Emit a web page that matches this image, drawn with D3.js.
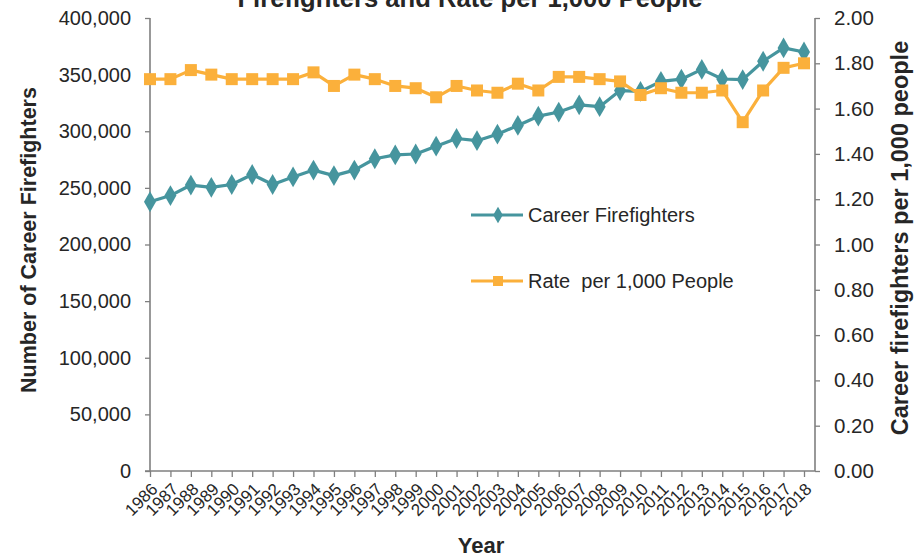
<!DOCTYPE html>
<html>
<head>
<meta charset="utf-8">
<script src="https://cdn.jsdelivr.net/npm/d3@7"></script>
<style>
  html, body { margin: 0; padding: 0; background: #fff; }
  svg { display: block; font-family: "Liberation Sans", Arial, sans-serif; }
</style>
</head>
<body>
<svg id="chart" width="923" height="558"></svg>
<script>
// Career firefighters in the US and the rate per 1,000 people, 1986-2018
const years = [1986, 1987, 1988, 1989, 1990, 1991, 1992, 1993, 1994, 1995, 1996,
  1997, 1998, 1999, 2000, 2001, 2002, 2003, 2004, 2005, 2006, 2007, 2008, 2009,
  2010, 2011, 2012, 2013, 2014, 2015, 2016, 2017, 2018];

const careerFirefighters = [237750, 243200, 252500, 250500, 253000, 261800, 253000,
  259650, 265700, 260850, 265700, 275700, 279100, 279900, 286800, 293600, 291650,
  297400, 305150, 313300, 316950, 323350, 321700, 335950, 335150, 344050, 345950,
  354600, 346150, 345600, 361800, 373600, 370000];

const ratePer1000 = [1.73, 1.73, 1.77, 1.75, 1.73, 1.73, 1.73, 1.73, 1.76, 1.70,
  1.75, 1.73, 1.70, 1.69, 1.65, 1.70, 1.68, 1.67, 1.71, 1.68, 1.74, 1.74, 1.73,
  1.72, 1.66, 1.69, 1.67, 1.67, 1.68, 1.54, 1.68, 1.78, 1.80];

const leftTicks = [0, 50000, 100000, 150000, 200000, 250000, 300000, 350000, 400000];
const rightTicks = [0, 0.2, 0.4, 0.6, 0.8, 1.0, 1.2, 1.4, 1.6, 1.8, 2.0];

const titleText = "Firefighters and Rate per 1,000 People";
const leftTitle = "Number of Career Firefighters";
const rightTitle = "Career firefighters per 1,000 people";
const xTitle = "Year";
const seriesNames = ["Career Firefighters", "Rate  per 1,000 People"];

const teal = "#46959e";
const orange = "#fbb03b";
const axisGray = "#7f7f7f";
const textColor = "#262626";

const svg = d3.select("#chart");

const plotLeft = 150, plotRight = 815, plotTop = 18, plotBottom = 471;

const x = d3.scalePoint().domain(years).range([150, 804]);
const yLeft = d3.scaleLinear().domain([0, 400000]).range([plotBottom, plotTop]);
const yRight = d3.scaleLinear().domain([0, 2]).range([plotBottom, plotTop]);

// Title (runs off the top edge)
svg.append("text")
  .attr("x", 470).attr("y", 7)
  .attr("text-anchor", "middle")
  .attr("font-size", 25.6).attr("font-weight", "bold")
  .attr("fill", textColor)
  .text(titleText);

// Left axis
const gLeft = svg.append("g")
  .attr("transform", `translate(${plotLeft},0)`)
  .call(d3.axisLeft(yLeft).tickValues(leftTicks).tickSize(5).tickPadding(14)
    .tickFormat(d3.format(",")));
gLeft.select(".domain").remove();
gLeft.selectAll(".tick line").attr("stroke", axisGray).attr("stroke-width", 1.3);
gLeft.selectAll(".tick text").attr("font-size", 20).attr("fill", textColor)
  .attr("font-family", "Liberation Sans, Arial, sans-serif");

// Right axis
const gRight = svg.append("g")
  .attr("transform", `translate(${plotRight},0)`)
  .call(d3.axisRight(yRight).tickValues(rightTicks).tickSize(5).tickPadding(14)
    .tickFormat(d3.format(".2f")));
gRight.select(".domain").remove();
gRight.selectAll(".tick line").attr("stroke", axisGray).attr("stroke-width", 1.3);
gRight.selectAll(".tick text").attr("font-size", 20.5).attr("fill", textColor)
  .attr("font-family", "Liberation Sans, Arial, sans-serif");

// Bottom axis with slanted year labels
const gBottom = svg.append("g")
  .attr("transform", `translate(0,${plotBottom})`)
  .call(d3.axisBottom(x).tickSize(6).tickSizeOuter(0));
gBottom.select(".domain").remove();
gBottom.selectAll(".tick line").attr("stroke", axisGray).attr("stroke-width", 1.3);
gBottom.selectAll(".tick text")
  .attr("font-size", 17).attr("fill", textColor)
  .attr("font-family", "Liberation Sans, Arial, sans-serif")
  .attr("text-anchor", "end")
  .attr("x", 0).attr("y", 0).attr("dy", "0.35em")
  .attr("transform", "translate(4,15) rotate(-45)");

// Axis lines
const axisLines = svg.append("g").attr("stroke", axisGray).attr("stroke-width", 1.6).attr("fill", "none");
axisLines.append("line").attr("x1", plotLeft).attr("x2", plotLeft).attr("y1", plotTop).attr("y2", plotBottom);
axisLines.append("line").attr("x1", plotRight).attr("x2", plotRight).attr("y1", plotTop).attr("y2", plotBottom);
axisLines.append("line").attr("x1", plotLeft - 5).attr("x2", plotRight).attr("y1", plotBottom).attr("y2", plotBottom);

// Axis titles
svg.append("text")
  .attr("transform", `translate(36,240) rotate(-90)`)
  .attr("text-anchor", "middle")
  .attr("font-size", 21.5).attr("font-weight", "bold").attr("fill", textColor)
  .text(leftTitle);

svg.append("text")
  .attr("transform", `translate(908,238) rotate(-90)`)
  .attr("text-anchor", "middle")
  .attr("font-size", 23.5).attr("font-weight", "bold").attr("fill", textColor)
  .text(rightTitle);

svg.append("text")
  .attr("x", 481).attr("y", 553)
  .attr("text-anchor", "middle")
  .attr("font-size", 22).attr("font-weight", "bold").attr("fill", textColor)
  .text(xTitle);

// Series lines and markers
const careerLine = d3.line().x((d, i) => x(years[i])).y(d => yLeft(d));
const rateLine = d3.line().x((d, i) => x(years[i])).y(d => yRight(d));

svg.append("path").datum(careerFirefighters)
  .attr("d", careerLine).attr("fill", "none")
  .attr("stroke", teal).attr("stroke-width", 3.2).attr("stroke-linejoin", "round");

const diamond = d3.symbol().type(d3.symbolDiamond).size(125);
svg.append("g").selectAll("path").data(careerFirefighters).join("path")
  .attr("transform", (d, i) => `translate(${x(years[i])},${yLeft(d)})`)
  .attr("d", diamond).attr("fill", teal);

svg.append("path").datum(ratePer1000)
  .attr("d", rateLine).attr("fill", "none")
  .attr("stroke", orange).attr("stroke-width", 3.2).attr("stroke-linejoin", "round");

svg.append("g").selectAll("rect").data(ratePer1000).join("rect")
  .attr("x", (d, i) => x(years[i]) - 6)
  .attr("y", d => yRight(d) - 6)
  .attr("width", 12).attr("height", 12)
  .attr("fill", orange);

// Legend
const legend = svg.append("g");
const legendRows = [
  { name: seriesNames[0], color: teal, y: 215, marker: "diamond" },
  { name: seriesNames[1], color: orange, y: 281, marker: "square" }
];
legendRows.forEach(r => {
  legend.append("line")
    .attr("x1", 471).attr("x2", 523).attr("y1", r.y).attr("y2", r.y)
    .attr("stroke", r.color).attr("stroke-width", 3.2);
  if (r.marker === "diamond") {
    legend.append("path").attr("transform", `translate(498,${r.y})`)
      .attr("d", d3.symbol().type(d3.symbolDiamond).size(80)).attr("fill", r.color);
  } else {
    legend.append("rect").attr("x", 498 - 5).attr("y", r.y - 5)
      .attr("width", 10).attr("height", 10).attr("fill", r.color);
  }
  legend.append("text")
    .attr("x", 528).attr("y", r.y + 7)
    .attr("font-size", 20).attr("fill", textColor)
    .attr("xml:space", "preserve")
    .style("white-space", "pre")
    .text(r.name);
});
</script>
</body>
</html>
